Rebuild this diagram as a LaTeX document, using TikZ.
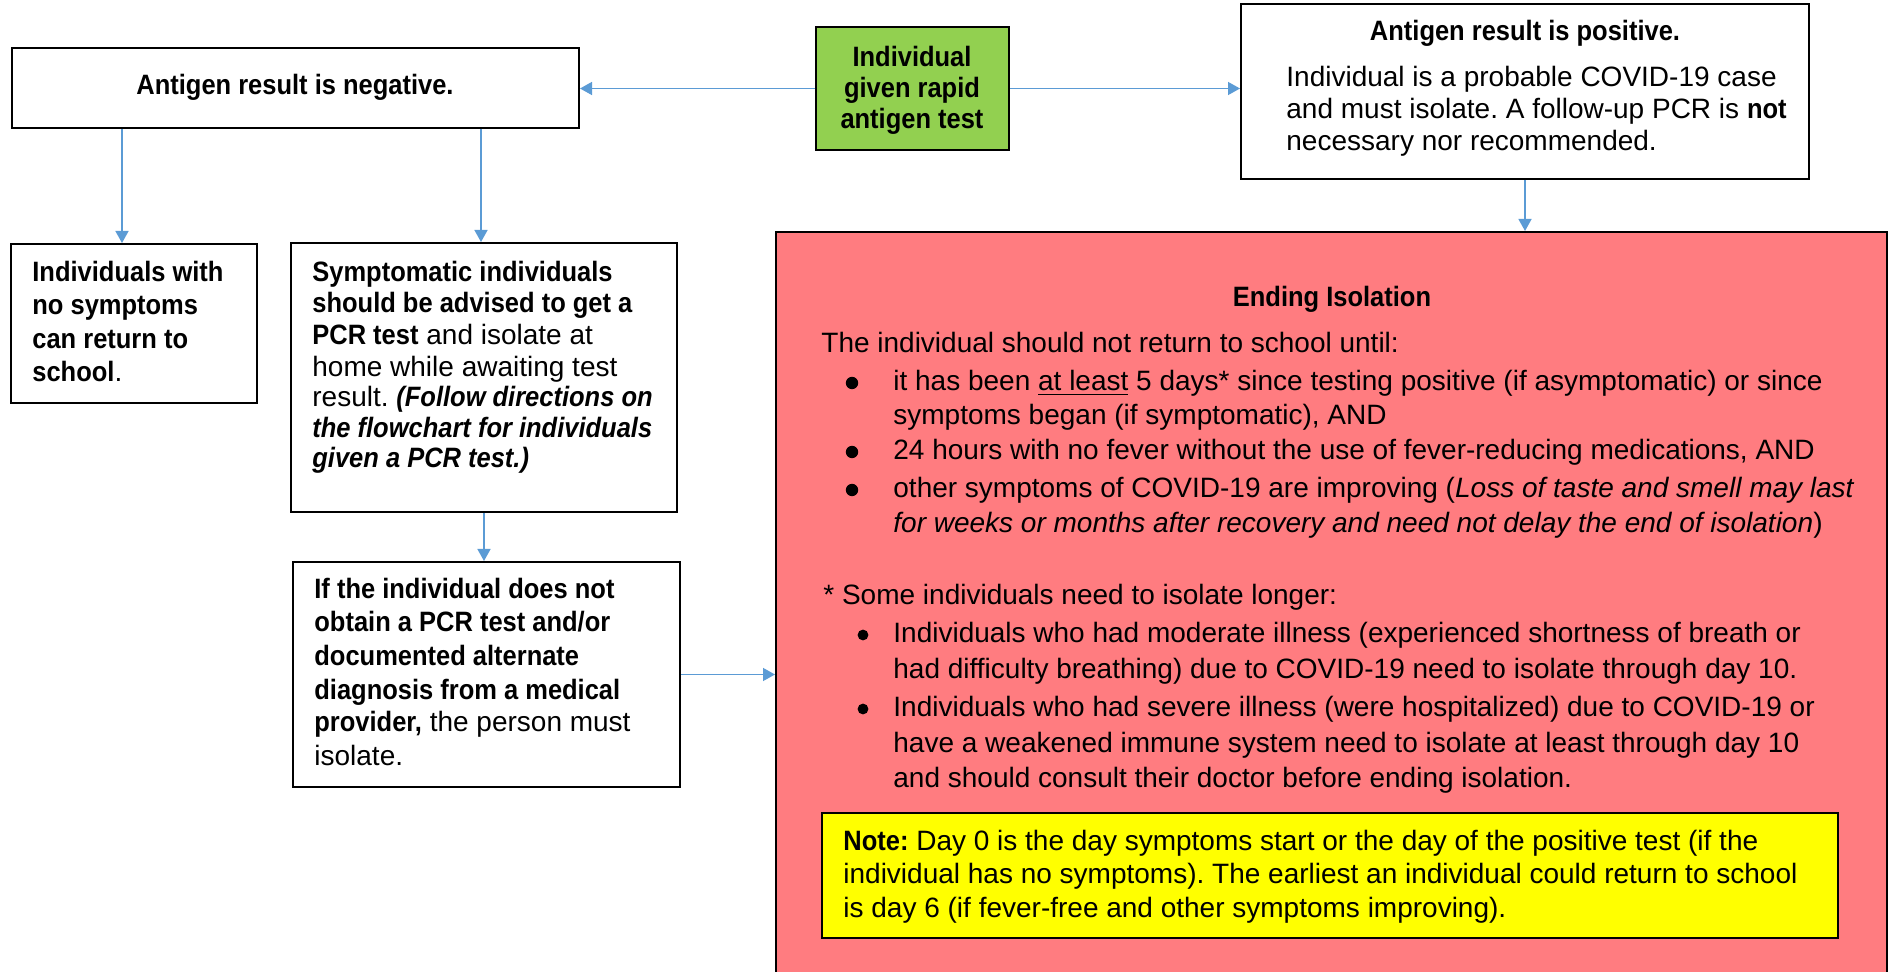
\documentclass[tikz,border=0pt]{standalone}
\usepackage{fontspec}
\setmainfont{Liberation Sans}[BoldFeatures={FakeStretch=0.91},BoldItalicFeatures={FakeStretch=0.91}]
\usetikzlibrary{arrows.meta,fit}
\definecolor{pinkfill}{HTML}{FF7C80}
\definecolor{grn}{HTML}{92D050}
\definecolor{arrblue}{HTML}{5B9BD5}
\definecolor{ylw}{HTML}{FFFF00}
\frenchspacing
\begin{document}
\begin{tikzpicture}[x=0.5pt,y=-0.5pt,
  box/.style={draw=black,line width=1pt,inner sep=0pt},
  ln/.style={anchor=base west,inner sep=0pt,font=\fontsize{14}{17}\selectfont\frenchspacing},
  cl/.style={anchor=base,inner sep=0pt,font=\fontsize{14}{17}\selectfont\frenchspacing},
  bigbul/.style={circle,fill=black,inner sep=0pt,minimum size=6.2pt},
  smlbul/.style={circle,fill=black,inner sep=0pt,minimum size=5.4pt},
  arr/.style={draw=arrblue,line width=0.7pt,-{Triangle[width=6.5pt,length=6pt]}}]
\clip (0,0) rectangle (1896,972);
\fill[white] (0,0) rectangle (1896,972);

% top row
\node[box,fit={(12,48) (579,128)}] (neg) {};
\node[cl] (negt) at (295,95) {\textbf{Antigen result is negative.}};

\node[box,fill=grn,fit={(816,27) (1009,150)}] (gr) {};
\node[cl] (gr1) at (912,67) {\textbf{Individual}};
\node[cl] (gr2) at (912,98) {\textbf{given rapid}};
\node[cl] (gr3) at (912,129) {\textbf{antigen test}};

\node[box,fit={(1241,4) (1809,179)}] (pos) {};
\node[cl] (post) at (1525,41) {\textbf{Antigen result is positive.}};
\node[ln] (pos1) at (1286,87) {Individual is a probable COVID-19 case};
\node[ln] (pos2) at (1286,119) {and must isolate. A follow-up PCR is \textbf{not}};
\node[ln] (pos3) at (1286,151) {necessary nor recommended.};

% left column
\node[box,fit={(11,244) (257,403)}] (boxA) {};
\node[ln] (a1) at (32,282) {\textbf{Individuals with}};
\node[ln] (a2) at (32,315) {\textbf{no symptoms}};
\node[ln] (a3) at (32,349) {\textbf{can return to}};
\node[ln] (a4) at (32,382) {\textbf{school}.};

\node[box,fit={(291,243) (677,512)}] (boxB) {};
\node[ln] (b1) at (312,282) {\textbf{Symptomatic individuals}};
\node[ln] (b2) at (312,313) {\textbf{should be advised to get a}};
\node[ln] (b3) at (312,345) {\textbf{PCR test} and isolate at};
\node[ln] (b4) at (312,377) {home while awaiting test};
\node[ln] (b5) at (312,407) {result. \textbf{\textit{(Follow directions on}}};
\node[ln] (b6) at (312,438) {\textbf{\textit{the flowchart for individuals}}};
\node[ln] (b7) at (312,468) {\textbf{\textit{given a PCR test.)}}};

\node[box,fit={(293,562) (680,787)}] (boxC) {};
\node[ln] (c1) at (314,599) {\textbf{If the individual does not}};
\node[ln] (c2) at (314,632) {\textbf{obtain a PCR test and/or}};
\node[ln] (c3) at (314,666) {\textbf{documented alternate}};
\node[ln] (c4) at (314,699) {\textbf{diagnosis from a medical}};
\node[ln] (c5) at (314,732) {\textbf{provider,} the person must};
\node[ln] (c6) at (314,765) {isolate.};

% pink box
\node[box,fill=pinkfill,fit={(776,232) (1887,1000)}] (pink) {};
\node[cl] (pt) at (1332,307) {\textbf{Ending Isolation}};
\node[ln] (p1) at (821,353) {The individual should not return to school until:};
\node[bigbul] (pb1) at (852,383) {};
\node[ln] (p2) at (893,391) {it has been \underline{at least} 5 days* since testing positive (if asymptomatic) or since};
\node[ln] (p3) at (893,425) {symptoms began (if symptomatic), AND};
\node[bigbul] (pb2) at (852,452) {};
\node[ln] (p4) at (893,460) {24 hours with no fever without the use of fever-reducing medications, AND};
\node[bigbul] (pb3) at (852,490) {};
\node[ln] (p5) at (893,498) {other symptoms of COVID-19 are improving (\textit{Loss of taste and smell may last}};
\node[ln] (p6) at (893,533) {\textit{for weeks or months after recovery and need not delay the end of isolation})};
\node[ln] (p7) at (823,605) {* Some individuals need to isolate longer:};
\node[smlbul] (sb1) at (863,635) {};
\node[ln] (p8) at (893,643) {Individuals who had moderate illness (experienced shortness of breath or};
\node[ln] (p9) at (893,679) {had difficulty breathing) due to COVID-19 need to isolate through day 10.};
\node[smlbul] (sb2) at (863,709) {};
\node[ln] (p10) at (893,717) {Individuals who had severe illness (were hospitalized) due to COVID-19 or};
\node[ln] (p11) at (893,753) {have a weakened immune system need to isolate at least through day 10};
\node[ln] (p12) at (893,787) {and should consult their doctor before ending isolation.};

\node[box,fill=ylw,fit={(822,813) (1838,938)}] (note) {};
\node[ln] (n1) at (843,850) {\textbf{Note:} Day 0 is the day symptoms start or the day of the positive test (if the};
\node[ln] (n2) at (843,883) {individual has no symptoms). The earliest an individual could return to school};
\node[ln] (n3) at (843,917) {is day 6 (if fever-free and other symptoms improving).};

% connectors
\coordinate (xa) at (122,0);
\coordinate (xb) at (481,0);
\draw[arr] (gr.west) -- (gr.west -| neg.east);
\draw[arr] (gr.east) -- (gr.east -| pos.west);
\draw[arr] (pos.south) -- (pos.south |- pink.north);
\draw[arr] (neg.south -| xa) -- (boxA.north -| xa);
\draw[arr] (neg.south -| xb) -- (boxB.north -| xb);
\draw[arr] (boxB.south) -- (boxB.south |- boxC.north);
\draw[arr] (boxC.east) -- (boxC.east -| pink.west);
\end{tikzpicture}
\end{document}
